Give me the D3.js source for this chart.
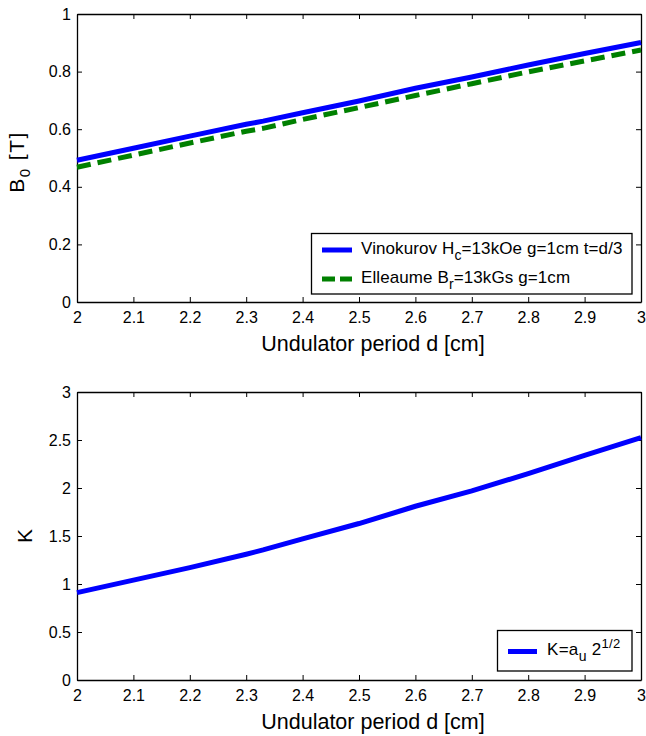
<!DOCTYPE html>
<html><head><meta charset="utf-8">
<script src="https://cdn.jsdelivr.net/npm/d3@7"></script>
<style>body{margin:0;background:#fff}svg{display:block;font-family:"Liberation Sans",Arial,sans-serif}</style>
</head><body><svg id="c" width="646" height="736"></svg>
<script>
const periods = [2.0, 2.1, 2.2, 2.3, 2.33, 2.4, 2.5, 2.6, 2.7, 2.8, 2.9, 3.0];
const vinokurov = [0.492, 0.534, 0.576, 0.617, 0.628, 0.657, 0.698, 0.742, 0.781, 0.823, 0.863, 0.901];
const elleaume  = [0.468, 0.510, 0.552, 0.593, 0.603, 0.634, 0.675, 0.717, 0.758, 0.799, 0.837, 0.875];
const kValues   = [0.91, 1.04, 1.17, 1.31, 1.355, 1.47, 1.63, 1.81, 1.97, 2.15, 2.34, 2.525];
const xTicks = [2, 2.1, 2.2, 2.3, 2.4, 2.5, 2.6, 2.7, 2.8, 2.9, 3];
const yTicksTop = [0, 0.2, 0.4, 0.6, 0.8, 1];
const yTicksBot = [0, 0.5, 1, 1.5, 2, 2.5, 3];

const svg = d3.select("#c");
const L = 77, R = 641;
const x = d3.scaleLinear().domain([2, 3]).range([L, R]);

function panel(top, bottom, ymax, yTicks) {
  const y = d3.scaleLinear().domain([0, ymax]).range([bottom, top]);
  const g = svg.append("g");
  const fmt = d => String(d);
  const ax = (axis) => axis.tickSizeOuter(0);
  g.append("g").attr("transform", `translate(0,${bottom})`)
    .call(ax(d3.axisBottom(x).tickValues(xTicks).tickFormat(fmt).tickSizeInner(-5).tickPadding(10)));
  g.append("g").attr("transform", `translate(0,${top})`)
    .call(ax(d3.axisTop(x).tickValues(xTicks).tickFormat("").tickSizeInner(-5)));
  g.append("g").attr("transform", `translate(${L},0)`)
    .call(ax(d3.axisLeft(y).tickValues(yTicks).tickFormat(fmt).tickSizeInner(-5).tickPadding(6)));
  g.append("g").attr("transform", `translate(${R},0)`)
    .call(ax(d3.axisRight(y).tickValues(yTicks).tickFormat("").tickSizeInner(-5)));
  g.selectAll(".domain").attr("stroke", "#000").attr("stroke-width", 1.3);
  g.selectAll(".tick line").attr("stroke", "#000");
  g.selectAll(".tick text").attr("font-size", 16).attr("fill", "#000")
    .attr("font-family", "'Liberation Sans',Arial,sans-serif");
  g.append("text").attr("x", 373).attr("y", bottom + 49)
    .attr("text-anchor", "middle").attr("font-size", 21.5).text("Undulator period d [cm]");
  return {g, y};
}

// Top panel
const p1 = panel(14, 302, 1, yTicksTop);
const line1 = d3.line().x((d, i) => x(periods[i])).y(d => p1.y(d));
p1.g.append("path").datum(vinokurov).attr("d", line1).attr("fill", "none")
  .attr("stroke", "#0000ff").attr("stroke-width", 5);
p1.g.append("path").datum(elleaume).attr("d", line1).attr("fill", "none")
  .attr("stroke", "#008000").attr("stroke-width", 5).attr("stroke-dasharray", "14,7");
const yl1 = p1.g.append("text").attr("transform", "translate(24,162) rotate(-90)")
  .attr("text-anchor", "middle").attr("font-size", 21).attr("letter-spacing", 1.5);
yl1.append("tspan").text("B");
yl1.append("tspan").attr("font-size", 15).attr("dy", 6).text("0");
yl1.append("tspan").attr("dy", -6).text(" [T]");

// Legend top
const lg1 = p1.g.append("g");
lg1.append("rect").attr("x", 311.5).attr("y", 233.5).attr("width", 320.5).attr("height", 60.5)
  .attr("fill", "#fff").attr("stroke", "#000").attr("stroke-width", 1.3);
lg1.append("line").attr("x1", 322).attr("x2", 352).attr("y1", 250).attr("y2", 250)
  .attr("stroke", "#0000ff").attr("stroke-width", 5);
lg1.append("line").attr("x1", 322).attr("x2", 352).attr("y1", 279).attr("y2", 279)
  .attr("stroke", "#008000").attr("stroke-width", 5).attr("stroke-dasharray", "13,5");
const t1 = lg1.append("text").attr("x", 361).attr("y", 253.5).attr("font-size", 17).attr("letter-spacing", 0.1);
t1.append("tspan").text("Vinokurov H");
t1.append("tspan").attr("font-size", 14).attr("dy", 6).text("c");
t1.append("tspan").attr("dy", -6).text("=13kOe g=1cm t=d/3");
const t2 = lg1.append("text").attr("x", 361).attr("y", 283).attr("font-size", 17).attr("letter-spacing", 0.1);
t2.append("tspan").text("Elleaume B");
t2.append("tspan").attr("font-size", 14).attr("dy", 6).text("r");
t2.append("tspan").attr("dy", -6).text("=13kGs g=1cm");

// Bottom panel
const p2 = panel(392, 680, 3, yTicksBot);
const line2 = d3.line().x((d, i) => x(periods[i])).y(d => p2.y(d));
p2.g.append("path").datum(kValues).attr("d", line2).attr("fill", "none")
  .attr("stroke", "#0000ff").attr("stroke-width", 5);
p2.g.append("text").attr("transform", "translate(32,536) rotate(-90)")
  .attr("text-anchor", "middle").attr("font-size", 21).text("K");

const lg2 = p2.g.append("g");
lg2.append("rect").attr("x", 497.5).attr("y", 630.5).attr("width", 134.5).attr("height", 40.5)
  .attr("fill", "#fff").attr("stroke", "#000").attr("stroke-width", 1.3);
lg2.append("line").attr("x1", 508).attr("x2", 537).attr("y1", 651.5).attr("y2", 651.5)
  .attr("stroke", "#0000ff").attr("stroke-width", 5);
const t3 = lg2.append("text").attr("x", 547).attr("y", 654.5).attr("font-size", 17).attr("letter-spacing", 0.3);
t3.append("tspan").text("K=a");
t3.append("tspan").attr("font-size", 14).attr("dy", 6).text("u");
t3.append("tspan").attr("dy", -6).text(" 2");
t3.append("tspan").attr("font-size", 13).attr("dy", -7).text("1/2");
</script></body></html>
